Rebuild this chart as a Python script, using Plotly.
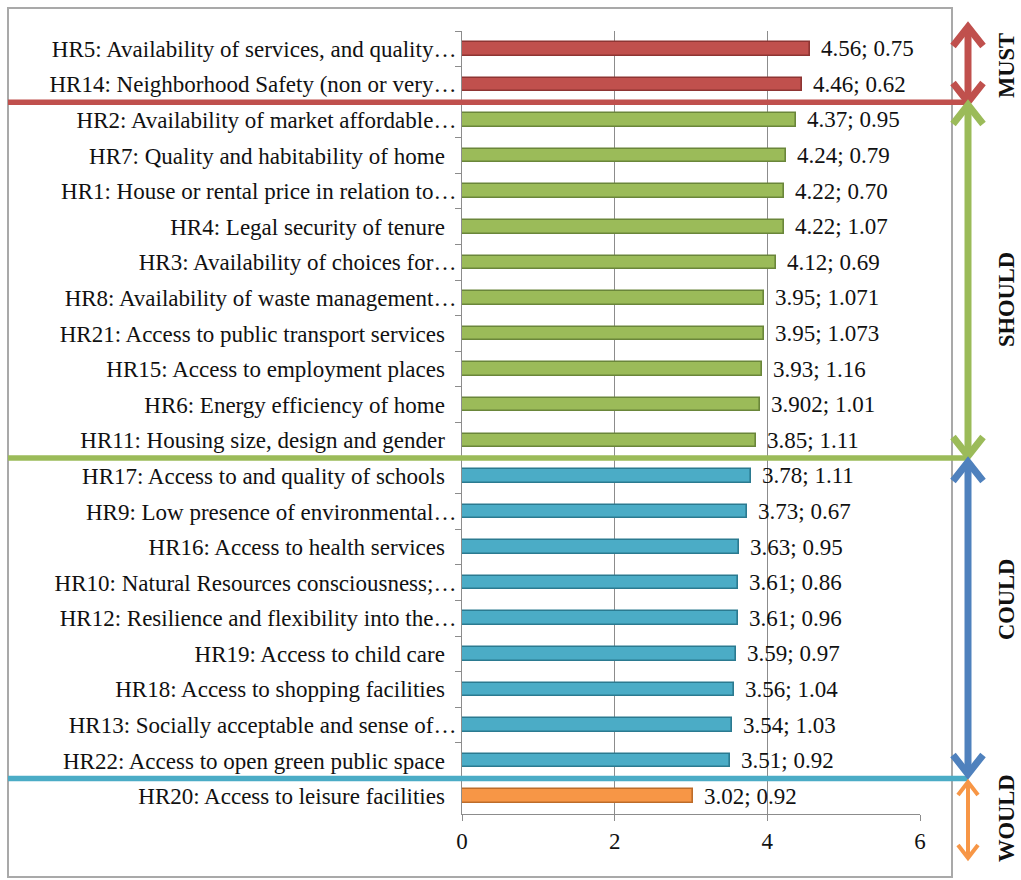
import plotly.graph_objects as go

# Housing requirements: mean score and standard deviation
labels = [
    "HR5: Availability of services, and quality…",
    "HR14: Neighborhood Safety (non or very…",
    "HR2: Availability of market affordable…",
    "HR7: Quality and habitability of home\u00a0\u00a0",
    "HR1: House or rental price in relation to…",
    "HR4: Legal security of tenure\u00a0\u00a0",
    "HR3: Availability of choices for…",
    "HR8: Availability of waste management…",
    "HR21: Access to public transport services\u00a0\u00a0",
    "HR15: Access to employment places\u00a0\u00a0",
    "HR6: Energy efficiency of home\u00a0\u00a0",
    "HR11: Housing size, design and gender\u00a0\u00a0",
    "HR17: Access to and quality of schools\u00a0\u00a0",
    "HR9: Low presence of environmental…",
    "HR16: Access to health services\u00a0\u00a0",
    "HR10: Natural Resources consciousness;…",
    "HR12: Resilience and flexibility into the…",
    "HR19: Access to child care\u00a0\u00a0",
    "HR18: Access to shopping facilities\u00a0\u00a0",
    "HR13: Socially acceptable and sense of…",
    "HR22: Access to open green public space\u00a0\u00a0",
    "HR20: Access to leisure facilities\u00a0\u00a0",
]
means = [4.56, 4.46, 4.37, 4.24, 4.22, 4.22, 4.12, 3.95, 3.95, 3.93, 3.902,
         3.85, 3.78, 3.73, 3.63, 3.61, 3.61, 3.59, 3.56, 3.54, 3.51, 3.02]
sds = ["0.75", "0.62", "0.95", "0.79", "0.70", "1.07", "0.69", "1.071", "1.073",
       "1.16", "1.01", "1.11", "1.11", "0.67", "0.95", "0.86", "0.96", "0.97",
       "1.04", "1.03", "0.92", "0.92"]
priority = ["MUST"] * 2 + ["SHOULD"] * 10 + ["COULD"] * 9 + ["WOULD"] * 1
x_ticks = [0, 2, 4, 6]

# MoSCoW group styling
group_order = ["MUST", "SHOULD", "COULD", "WOULD"]
bar_fill = {"MUST": "#C0504D", "SHOULD": "#9BBB59", "COULD": "#4BACC6", "WOULD": "#F79646"}
bar_edge = {"MUST": "#8E3533", "SHOULD": "#6A863A", "COULD": "#2B7A90", "WOULD": "#BD6C2A"}
sep_color = {"MUST": "#C0504D", "SHOULD": "#9BBB59", "COULD": "#4BACC6"}
arrow_color = {"MUST": "#C0504D", "SHOULD": "#9BBB59", "COULD": "#4F81BD", "WOULD": "#F79646"}

SERIF = "Liberation Serif"
FS = 23
W, H = 1021, 880
L, R, T, B = 462, 920, 31, 814  # plot area in pixels


def px(x):
    return (x - L) / (R - L)


def py(y):
    return (B - y) / (B - T)


fig = go.Figure()
fig.add_trace(go.Bar(
    x=means,
    y=labels,
    orientation="h",
    width=0.38,
    marker=dict(color=[bar_fill[p] for p in priority],
                line=dict(color=[bar_edge[p] for p in priority], width=1.6)),
    hoverinfo="skip",
))

annotations = []
for lab, m, s in zip(labels, means, sds):
    annotations.append(dict(
        x=m, y=lab, xref="x", yref="y", text=f"{m}; {s}", showarrow=False,
        xanchor="left", yanchor="middle", xshift=9,
        font=dict(family=SERIF, size=FS, color="#111111"),
    ))

shapes = []
# outer frame
shapes.append(dict(type="rect", xref="paper", yref="paper",
                   x0=px(8), x1=px(952), y0=py(877), y1=py(8),
                   line=dict(color="#a9a9a9", width=2), layer="below"))

# group boundaries (category index positions)
bounds = []
start = 0
for g in group_order:
    cnt = priority.count(g)
    bounds.append((g, start - 0.5, start + cnt - 0.5))
    start += cnt

ARROW_X = 968
for g, b0, b1 in bounds:
    if g in sep_color:
        shapes.append(dict(type="line", xref="paper", yref="y",
                           x0=px(8), x1=px(ARROW_X), y0=b1, y1=b1,
                           line=dict(color=sep_color[g], width=5.5), layer="above"))

# double-headed arrows beside each group
arrow_ends = {
    "MUST": (27, 102),
    "SHOULD": (105, 456),
    "COULD": (462, 774),
    "WOULD": (782, 858),
}
label_centre = {"MUST": 66, "SHOULD": 300, "COULD": 600, "WOULD": 818}
for g in group_order:
    top, bot = arrow_ends[g]
    c = arrow_color[g]
    lw = 7 if g != "WOULD" else 4
    hw = 15 if g != "WOULD" else 10
    hh = 19 if g != "WOULD" else 13
    shapes.append(dict(type="line", xref="paper", yref="paper",
                       x0=px(ARROW_X), x1=px(ARROW_X), y0=py(top + 3), y1=py(bot - 3),
                       line=dict(color=c, width=lw), layer="above"))
    up = f"M {px(ARROW_X - hw)},{py(top + hh)} L {px(ARROW_X)},{py(top)} L {px(ARROW_X + hw)},{py(top + hh)}"
    dn = f"M {px(ARROW_X - hw)},{py(bot - hh)} L {px(ARROW_X)},{py(bot)} L {px(ARROW_X + hw)},{py(bot - hh)}"
    for p in (up, dn):
        shapes.append(dict(type="path", xref="paper", yref="paper", path=p,
                           line=dict(color=c, width=lw), layer="above"))
    annotations.append(dict(
        x=px(1006), y=py(label_centre[g]), xref="paper", yref="paper",
        text=f"<b>{g}</b>", showarrow=False, textangle=-90,
        xanchor="center", yanchor="middle",
        font=dict(family=SERIF, size=22.5, color="#111111"),
    ))

fig.update_layout(
    width=W, height=H,
    margin=dict(l=L, r=W - R, t=T, b=H - B, pad=0),
    paper_bgcolor="white", plot_bgcolor="white",
    showlegend=False,
    bargap=0,
    font=dict(family=SERIF, size=FS, color="#111111"),
    xaxis=dict(range=[0, 6], tickvals=x_ticks, showgrid=True, gridcolor="#8c8c8c",
               gridwidth=1, zeroline=False, showline=True, linecolor="#8c8c8c",
               linewidth=1, ticks="outside", ticklen=6, tickcolor="#8c8c8c",
               tickfont=dict(family=SERIF, size=FS, color="#111111"), fixedrange=True),
    yaxis=dict(categoryorder="array", categoryarray=labels, autorange="reversed",
               showgrid=False, zeroline=False, showline=True, linecolor="#8c8c8c",
               linewidth=1, ticks="outside", ticklen=6, tickcolor="#8c8c8c",
               tickson="boundaries",
               tickfont=dict(family=SERIF, size=FS, color="#111111"), fixedrange=True),
    shapes=shapes,
    annotations=annotations,
)

fig.write_html("out.html")
